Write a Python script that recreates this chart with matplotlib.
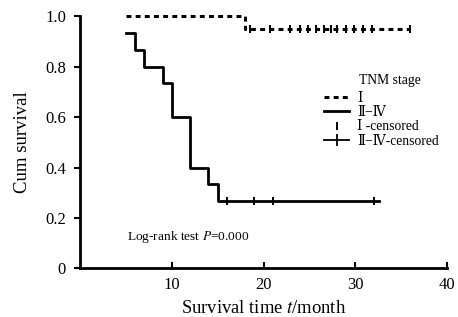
import numpy as np
import matplotlib
matplotlib.use("Agg")
import matplotlib.pyplot as plt
from matplotlib.lines import Line2D

plt.rcParams['font.family'] = ['Liberation Serif', 'DejaVu Serif']
plt.rcParams['mathtext.fontset'] = 'stix'

# group I (TNM stage I): step times and survival
t1 = [5, 18, 36]
s1 = [1.0, 0.947, 0.947]
cens1_t = [18.5, 20.7, 22.9, 24.0, 24.9, 25.7, 26.6, 27.4, 28.0, 29.0, 29.9, 30.8, 31.8, 36.0]

# group II-IV
t2 = [5, 6, 7, 9, 10, 12, 14, 15, 32.6]
s2 = [0.933, 0.867, 0.8, 0.733, 0.6, 0.4, 0.333, 0.267, 0.267]
cens2_t = [16, 19, 21, 32]

yticks = [0, 0.2, 0.4, 0.6, 0.8, 1.0]
ylabels = ['0', '0.2', '0.4', '0.6', '0.8', '1.0']
xticks = [10, 20, 30, 40]

fig = plt.figure(figsize=(4.58, 3.17), dpi=100)
ax = fig.add_axes([0.1747, 0.153, 0.8013, 0.7965])

ax.step(t1, s1, where='post', color='black', lw=2.2, ls=(0, (1.6, 1.4)), clip_on=False)
ax.plot(cens1_t, [s1[-1]] * len(cens1_t), ls='none', marker='|', ms=6, mew=1.4, color='black')

ax.step(t2, s2, where='post', color='black', lw=2.0)
ax.plot(cens2_t, [s2[-1]] * len(cens2_t), ls='none', marker='|', ms=6, mew=1.4, color='black')

ax.set_xlim(0, 40)
ax.set_ylim(0, 1.0)
ax.set_xticks(xticks)
ax.set_yticks(yticks)
ax.set_yticklabels(ylabels)
ax.tick_params(axis='x', direction='in', length=4, width=1.5, labelsize=12, pad=6)
ax.tick_params(axis='y', direction='out', length=4, width=1.5, labelsize=12, pad=6)
for s in ['top', 'right']:
    ax.spines[s].set_visible(False)
for s in ['left', 'bottom']:
    ax.spines[s].set_linewidth(2)

ax.set_ylabel('Cum survival', fontsize=13.5, labelpad=10)
ax.set_xlabel('Survival time $\\it{t}$/month', fontsize=13.4, labelpad=5)

ax.text(5.1, 0.113, 'Log-rank test $\\it{P}$=0.000', fontsize=9.6)

ax.text(30.4, 0.746, 'TNM stage', fontsize=9.8, va='center', ha='left')
handles = [
    Line2D([], [], color='black', lw=2.2, ls=(0, (1.6, 1.4))),
    Line2D([], [], color='black', lw=2.0),
    Line2D([], [], color='black', ls='none', marker='|', ms=6, mew=1.4),
    Line2D([], [], color='black', lw=1.3, marker='|', ms=8, mew=1.3),
]
labels = ['\u2160', '\u2161\u2212\u2163', '\u2160 -censored', '\u2161\u2212\u2163-censored']
leg = ax.legend(handles, labels, loc='upper left',
                bbox_to_anchor=(0.64, 0.738), frameon=False, fontsize=9.8,
                handlelength=1.8, handletextpad=0.6,
                labelspacing=0.1, borderpad=0.2)

fig.savefig('out.png', dpi=100)
